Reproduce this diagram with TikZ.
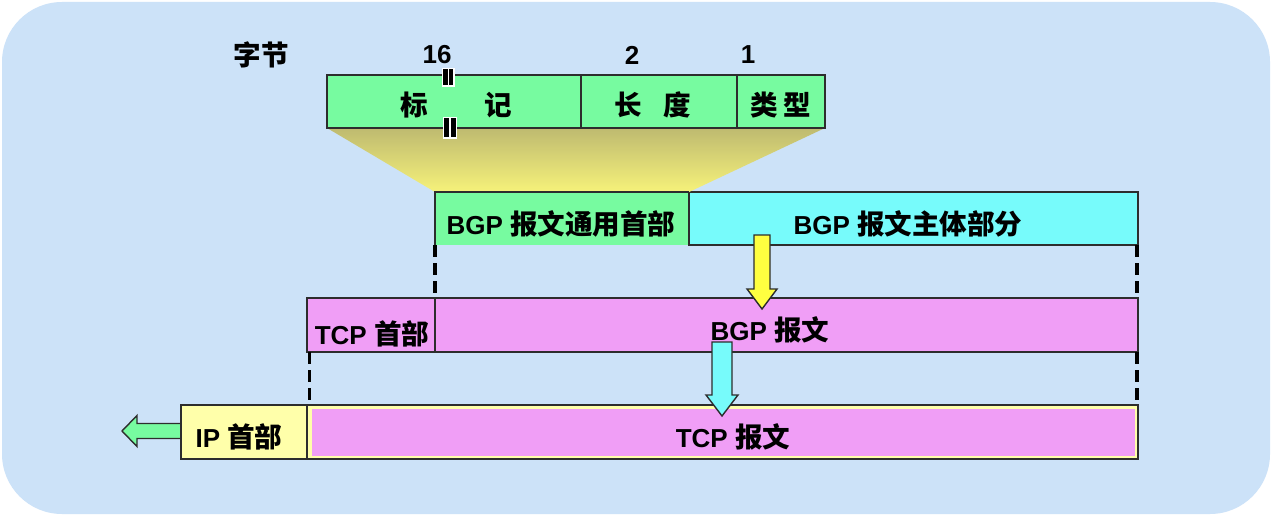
\documentclass[tikz,border=0pt]{standalone}
\usepackage{fontspec}
\setmainfont{Liberation Sans}
\newfontfamily\cjk[Scale=1.06]{Noto Sans CJK SC}
\usetikzlibrary{calc}
\definecolor{bgblue}{RGB}{204,226,248}
\definecolor{hdrgreen}{RGB}{119,251,160}
\definecolor{bodycyan}{RGB}{119,251,251}
\definecolor{msgpink}{RGB}{240,158,246}
\definecolor{iphdr}{RGB}{255,255,170}
\definecolor{arrowyellow}{RGB}{255,255,64}
\definecolor{edge}{RGB}{45,45,45}
\definecolor{fantop}{RGB}{190,186,112}
\definecolor{fanbot}{RGB}{246,242,122}
\begin{document}
\begin{tikzpicture}[x=1pt,y=-1pt,
  field/.style={draw=edge, line width=1.6pt, inner sep=0pt, outer sep=0pt, anchor=north west},
  txt/.style={font=\bfseries\fontsize{26}{29}\selectfont, inner sep=0pt},
  guide/.style={line width=3.5pt, dash pattern=on 12pt off 6pt},
  blockarrow/.style={draw=edge, line width=1.4pt, line join=miter}]

% canvas and rounded backdrop
\fill[white] (0,0) rectangle (1272,516);
\fill[bgblue, rounded corners=60pt] (2,2) rectangle (1270,514);

% BGP common header fields
\node[field, fill=hdrgreen, minimum width=254pt, minimum height=53pt] (marker) at (327,75) {};
\node[field, fill=hdrgreen, minimum width=156pt, minimum height=53pt] (length) at (581,75) {};
\node[field, fill=hdrgreen, minimum width=88pt,  minimum height=53pt] (type)   at (737,75) {};

% message rows
\node[field, draw=none, fill=hdrgreen, minimum width=254pt, minimum height=53pt] (bgphdr)  at (435,192) {};
\node[field, fill=bodycyan,  minimum width=449pt, minimum height=53pt] (bgpbody) at (689,192) {};

% fan from the header fields down to the common header
\shade[top color=fantop, bottom color=fanbot]
  (marker.south west) -- (type.south east) -- (bgphdr.north east) -- (bgphdr.north west) -- cycle;
\draw[edge, line width=1.6pt] (bgphdr.south west) -- (bgphdr.north west) -- (bgphdr.north east);
\draw[edge, line width=1.6pt] (marker.south west) -- (type.south east);

% break marks on the marker field
\fill[white] (441.5,68) rectangle (454.5,87);
\fill[black] (443,69.5) rectangle (447.5,85.5);
\fill[black] (449,69.5) rectangle (453,85.5);
\fill[white] (442.5,117) rectangle (457,139);
\fill[black] (444,118.5) rectangle (449,137.5);
\fill[black] (450.5,118.5) rectangle (455.5,137.5);

\node[field, fill=msgpink, minimum width=128pt, minimum height=54pt] (tcphdr) at (307,298) {};
\node[field, fill=msgpink, minimum width=703pt, minimum height=54pt] (bgpmsg) at (435,298) {};

\draw[guide] (bgphdr.south west) -- (bgpmsg.north west);
\draw[guide] ([xshift=-1pt]bgpbody.south east) -- ([xshift=-1pt]bgpmsg.north east);

% encapsulation arrow: BGP body into the BGP message
\coordinate (ya1) at (762,235);
\coordinate (ya2) at (762,309);
\draw[blockarrow, fill=arrowyellow]
  (ya1) ++(-8,0) -- ++(16,0) -- ++(0,54) -- ++(7,0) -- (ya2) -- ++(-15,-20) -- ++(7,0) -- cycle;

% IP datagram row
\coordinate (ga1) at (181,431);
\coordinate (ga2) at (122,431);
\draw[blockarrow, fill=hdrgreen]
  (ga1) ++(0,-7.5) -- ++(-44,0) -- ++(0,-8) -- (ga2) -- ++(15,15.5) -- ++(0,-8) -- ++(44,0) -- cycle;

\node[field, fill=iphdr, minimum width=126pt, minimum height=54pt] (iphdr)  at (181,405) {};
\node[field, fill=iphdr, minimum width=831pt, minimum height=54pt] (tcpmsg) at (307,405) {};
\fill[msgpink] ($(tcpmsg.north west)+(5,3.5)$) rectangle ($(tcpmsg.south east)+(-3,-3)$);

\draw[guide] ([xshift=2.5pt]tcphdr.south west) -- ([xshift=2.5pt]tcpmsg.north west);
\draw[guide] ([xshift=-1pt]bgpmsg.south east) -- ([xshift=-1pt]tcpmsg.north east);

% encapsulation arrow: BGP message into the TCP segment
\coordinate (ca1) at (722,342);
\coordinate (ca2) at (722,416);
\draw[blockarrow, fill=bodycyan]
  (ca1) ++(-10,0) -- ++(20,0) -- ++(0,53) -- ++(6,0) -- (ca2) -- ++(-16,-21) -- ++(6,0) -- cycle;

% labels
\node[txt] (tbyte) at (261,55) {\cjk 字节};
\node[txt] (t16)   at (437,55) {16};
\node[txt] (t2)    at (632,55) {2};
\node[txt] (t1)    at (748,55) {1};
\node[txt] (tmk1)  at (414,105) {\cjk 标};
\node[txt] (tmk2)  at (498,105) {\cjk 记};
\node[txt] (tlen)  at (653,105) {\cjk 长\hspace{22pt}度};
\node[txt] (ttype) at (781,105) {\cjk 类\hspace{6pt}型};
\node[txt] (thdr)  at (561,224) {BGP {\cjk 报文通用首部}};
\node[txt] (tbody) at (908,224) {BGP {\cjk 报文主体部分}};
\node[txt] (ttcph) at (372,334) {TCP {\cjk 首部}};
\node[txt] (tbgpm) at (770,330) {BGP {\cjk 报文}};
\node[txt] (tiph)  at (239,437) {IP {\cjk 首部}};
\node[txt] (ttcpm) at (733,437) {TCP {\cjk 报文}};
\end{tikzpicture}
\end{document}
